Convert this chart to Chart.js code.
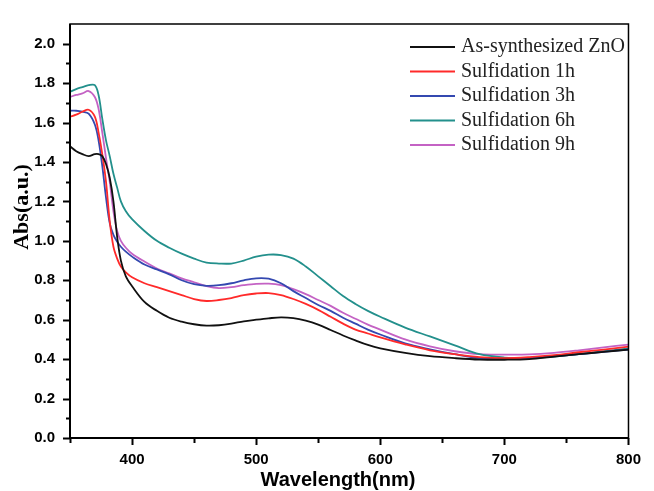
<!DOCTYPE html>
<html>
<head>
<meta charset="utf-8">
<script src="https://cdn.jsdelivr.net/npm/chart.js@4/dist/chart.umd.min.js"></script>
<style>
  html, body { margin: 0; padding: 0; background: #fff; }
  #chart { display: block; }
</style>
</head>
<body>
<canvas id="chart" width="654" height="491"></canvas>
<script>
// Wavelength grid (nm) shared by every spectrum
const wavelengths = [350, 355, 360, 365, 370, 373, 376, 379, 382, 385, 388, 391, 395, 400,
    410, 420, 430, 440, 450, 460, 470, 480, 490, 500, 510, 520, 530, 540, 550, 560, 570,
    580, 590, 600, 620, 640, 660, 680, 700, 720, 740, 760, 780, 800];

const seriesLabels = ['As-synthesized ZnO', 'Sulfidation 1h', 'Sulfidation 3h', 'Sulfidation 6h', 'Sulfidation 9h'];

// Absorbance
const absZnO = [1.48, 1.455, 1.44, 1.43, 1.44, 1.44, 1.43, 1.39, 1.32, 1.20, 1.02, 0.90, 0.82, 0.77,
    0.69, 0.645, 0.61, 0.59, 0.577, 0.57, 0.572, 0.58, 0.592, 0.60, 0.607, 0.612, 0.608, 0.595, 0.575, 0.548, 0.52,
    0.495, 0.472, 0.455, 0.432, 0.415, 0.405, 0.398, 0.397, 0.40, 0.413, 0.425, 0.437, 0.448];
const abs1h = [1.63, 1.64, 1.655, 1.665, 1.63, 1.55, 1.44, 1.30, 1.10, 0.97, 0.91, 0.87, 0.84, 0.815,
    0.785, 0.765, 0.745, 0.725, 0.705, 0.695, 0.70, 0.71, 0.725, 0.733, 0.735, 0.725, 0.705, 0.68, 0.65, 0.615, 0.58,
    0.55, 0.53, 0.51, 0.475, 0.445, 0.425, 0.41, 0.405, 0.41, 0.42, 0.435, 0.448, 0.463];
const abs3h = [1.66, 1.66, 1.655, 1.645, 1.59, 1.51, 1.38, 1.22, 1.09, 1.03, 0.995, 0.97, 0.945, 0.92,
    0.88, 0.855, 0.83, 0.80, 0.78, 0.772, 0.775, 0.785, 0.80, 0.81, 0.808, 0.785, 0.745, 0.71, 0.675, 0.645, 0.61,
    0.58, 0.55, 0.525, 0.48, 0.45, 0.425, 0.405, 0.40, 0.405, 0.414, 0.425, 0.437, 0.449];
const abs6h = [1.756, 1.77, 1.78, 1.79, 1.79, 1.74, 1.62, 1.51, 1.43, 1.34, 1.27, 1.20, 1.15, 1.11,
    1.05, 1.00, 0.965, 0.935, 0.91, 0.89, 0.885, 0.885, 0.90, 0.92, 0.93, 0.928, 0.91, 0.87, 0.82, 0.77, 0.72,
    0.68, 0.645, 0.615, 0.56, 0.515, 0.47, 0.425, 0.408, 0.405, 0.413, 0.425, 0.44, 0.454];
const abs9h = [1.73, 1.74, 1.748, 1.76, 1.73, 1.67, 1.55, 1.42, 1.30, 1.15, 1.05, 1.00, 0.965, 0.935,
    0.895, 0.86, 0.835, 0.81, 0.79, 0.77, 0.76, 0.765, 0.775, 0.782, 0.783, 0.775, 0.755, 0.73, 0.70, 0.67, 0.635,
    0.605, 0.575, 0.55, 0.50, 0.465, 0.44, 0.425, 0.423, 0.424, 0.432, 0.445, 0.46, 0.474];

const seriesValues = [absZnO, abs1h, abs3h, abs6h, abs9h];
const seriesColors = ['#111111', '#ff2a2a', '#3448b0', '#23908c', '#c462c4'];

const datasets = seriesValues.map((vals, i) => ({
    label: seriesLabels[i],
    data: vals.map((v, j) => ({ x: wavelengths[j], y: v })),
    borderColor: seriesColors[i],
    backgroundColor: 'transparent',
    borderWidth: 1.8,
    pointRadius: 0,
    tension: 0.35
}));

// frame, minor/major tick marks, axis titles and legend
const framePlugin = {
    id: 'frame',
    beforeDraw(chart) {
        const c = chart.ctx;
        c.save();
        c.fillStyle = '#fff';
        c.fillRect(0, 0, chart.width, chart.height);
        c.restore();
    },
    afterDraw(chart) {
        const c = chart.ctx;
        const a = chart.chartArea;
        const xs = chart.scales.x, ys = chart.scales.y;
        c.save();
        c.strokeStyle = '#000';
        // frame
        c.lineWidth = 1.5;
        c.strokeRect(a.left, a.top, a.right - a.left, a.bottom - a.top);
        c.lineWidth = 2;
        c.beginPath();
        c.moveTo(a.left, a.top); c.lineTo(a.left, a.bottom); c.lineTo(a.right, a.bottom);
        c.stroke();
        // y ticks
        for (let k = 0; k <= 20; k++) {
            const py = Math.round(ys.getPixelForValue(k / 10)) + 0.5;
            const len = k % 2 === 0 ? 7 : 4;
            c.beginPath(); c.moveTo(a.left - len, py); c.lineTo(a.left, py); c.stroke();
        }
        // x ticks
        for (let v = 350; v <= 800; v += 50) {
            const px = Math.round(xs.getPixelForValue(v)) + 0.5;
            const len = v % 100 === 0 ? 7 : 5;
            c.beginPath(); c.moveTo(px, a.bottom); c.lineTo(px, a.bottom + len); c.stroke();
        }
        // axis titles
        c.fillStyle = '#000';
        c.textAlign = 'center';
        c.textBaseline = 'middle';
        c.font = 'bold 20px "Liberation Sans", Arial, sans-serif';
        c.fillText('Wavelength(nm)', 338, 480);
        c.save();
        c.translate(22, 207);
        c.rotate(-Math.PI / 2);
        c.font = 'bold 22px "Liberation Serif", "Times New Roman", serif';
        c.fillText('Abs(a.u.)', 0, 0);
        c.restore();
        // legend
        c.textAlign = 'left';
        c.font = '20px "Liberation Serif", "Times New Roman", serif';
        chart.data.datasets.forEach((ds, i) => {
            const y = 47 + i * 24.5;
            c.strokeStyle = ds.borderColor;
            c.lineWidth = 2;
            c.beginPath(); c.moveTo(410, y); c.lineTo(455, y); c.stroke();
            c.fillStyle = '#222';
            c.fillText(ds.label, 461, y);
        });
        c.restore();
    }
};

new Chart(document.getElementById('chart'), {
    type: 'line',
    data: { datasets },
    options: {
        responsive: false,
        animation: false,
        devicePixelRatio: 1,
        layout: { padding: { left: 0, right: 15, top: 16, bottom: 0 } },
        scales: {
            x: {
                type: 'linear',
                min: 350,
                max: 800,
                grid: { display: false, drawTicks: false },
                border: { display: false },
                ticks: {
                    stepSize: 50,
                    autoSkip: false,
                    maxRotation: 0,
                    padding: 13,
                    color: '#000',
                    font: { family: '"Liberation Sans", Arial, sans-serif', size: 15, weight: 'bold' },
                    callback: (v) => (v % 100 === 0 ? String(v) : '')
                },
                afterFit: (s) => { s.height = 53; }
            },
            y: {
                min: 0,
                max: 2.1,
                grid: { display: false, drawTicks: false },
                border: { display: false },
                ticks: {
                    stepSize: 0.1,
                    autoSkip: false,
                    padding: 15,
                    color: '#000',
                    font: { family: '"Liberation Sans", Arial, sans-serif', size: 15, weight: 'bold' },
                    callback: (v) => {
                        const k = Math.round(v * 10);
                        return (k % 2 === 0 && k <= 20) ? (k / 10).toFixed(1) : '';
                    }
                },
                afterFit: (s) => { s.width = 70; }
            }
        },
        plugins: {
            legend: { display: false },
            tooltip: { enabled: false }
        }
    },
    plugins: [framePlugin]
});
</script>
</body>
</html>
